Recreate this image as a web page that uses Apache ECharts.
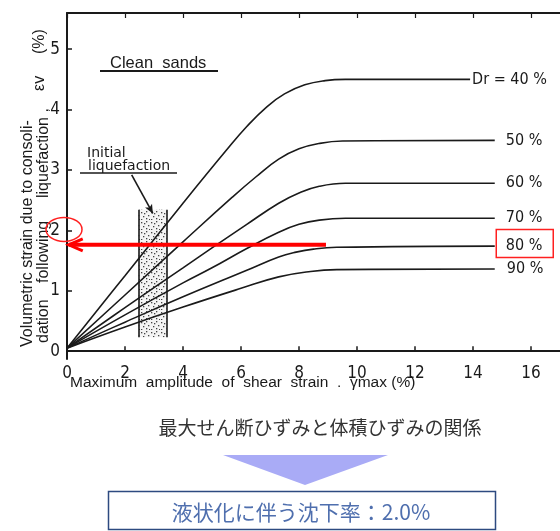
<!DOCTYPE html>
<html><head><meta charset="utf-8">
<script src="https://cdn.jsdelivr.net/npm/echarts@6/dist/echarts.min.js"></script>
<style>html,body{margin:0;padding:0;background:#fff;}#c{width:560px;height:531px;}</style>
</head><body><div id="c"></div>
<script>
// ---- data ----
const xTicks = [0, 2, 4, 6, 8, 10, 12, 14, 16];
const yTicks = [0, 1, 2, 3, 4, 5];
const curveNames = ['Dr = 40 %', '50 %', '60 %', '70 %', '80 %', '90 %'];
const dr40 = [[0,0.05],[2,1.25],[4,2.45],[5.5,3.33],[6.2,3.72],[6.9,4.05],[7.5,4.26],[8.2,4.41],[8.9,4.48],[9.6,4.5],[13.9,4.5]];
const dr50 = [[0,0.05],[2,0.93],[4,1.81],[5.7,2.55],[6.5,2.88],[7.3,3.18],[8.0,3.35],[8.7,3.44],[9.5,3.48],[14.75,3.49]];
const dr60 = [[0,0.05],[2,0.72],[4,1.38],[5,1.71],[6.2,2.1],[7.3,2.45],[8.0,2.62],[8.7,2.73],[9.6,2.78],[14.75,2.78]];
const dr70 = [[0,0.05],[2,0.6],[4,1.13],[5,1.38],[6.2,1.7],[7.3,1.97],[8.0,2.1],[8.7,2.17],[9.6,2.2],[14.75,2.2]];
const dr80 = [[0,0.05],[2,0.48],[4,0.9],[6.2,1.34],[7.3,1.56],[7.9,1.64],[8.5,1.69],[9.3,1.72],[14.75,1.74]];
const dr90 = [[0,0.05],[2,0.4],[4,0.73],[6,1.04],[7.3,1.23],[8.4,1.32],[9.3,1.35],[14.75,1.36]];
const curves = [dr40, dr50, dr60, dr70, dr80, dr90];
const bandX = [2.47, 3.43];        // initial liquefaction band
const bandY = [0.23, 2.34];
const pointerLine = [[2.23, 2.92], [2.96, 2.28]];
const readLine = [[8.93, 1.76], [0.06, 1.76]];  // red reading arrow
const captionTop = '最大せん断ひずみと体積ひずみの関係';
const captionBox = '液状化に伴う沈下率：2.0%';

const FONT = "'Liberation Sans Narrow','DejaVu Sans Condensed','Liberation Sans',sans-serif";
const TFONT = "'Liberation Sans',Arial,sans-serif";
const DFONT = "'DejaVu Sans',sans-serif";
const INK = '#1a1a1a';

// dotted texture (fixed dot positions)
const pat = document.createElement('canvas');
pat.width = 10; pat.height = 10;
(function(){
  const g = pat.getContext('2d');
  g.fillStyle = '#f4f4f4'; g.fillRect(0,0,10,10);
  g.fillStyle = '#444';
  [[1,2],[6,1],[8,5],[3,6],[6,8],[9,9],[1,9],[4,3]].forEach(p => g.fillRect(p[0],p[1],1.3,1.3));
})();

const chart = echarts.init(document.getElementById('c'), null, {renderer: 'canvas'});

const endDist = [2, 11, 11, 11, 11, 12];
const series = curves.map((d, i) => ({
  type: 'line', name: curveNames[i], data: d, smooth: 0.45,
  symbol: 'none', silent: true,
  lineStyle: {color: INK, width: 1.6},
  endLabel: {show: true, formatter: '{a}', distance: endDist[i], color: INK, fontSize: 16, fontFamily: FONT},
  z: 3
}));

// band + annotations carried on helper series
series.push({
  type: 'line', data: [], symbol: 'none', silent: true,
  markArea: {silent: true, itemStyle: {color: {image: pat, repeat: 'repeat'}, opacity: 1},
    data: [[{coord: [bandX[0], bandY[0]]}, {coord: [bandX[1], bandY[1]]}]]},
  markLine: {silent: true, symbol: 'none', label: {show: false},
    lineStyle: {color: INK, width: 1.6, type: 'solid'},
    data: [
      [{coord: [bandX[0], bandY[0]]}, {coord: [bandX[0], bandY[1]]}],
      [{coord: [bandX[1], bandY[0]]}, {coord: [bandX[1], bandY[1]]}],
      [{coord: pointerLine[0], symbol: 'none'}, {coord: pointerLine[1], symbol: 'arrow', symbolSize: [6, 9]}]
    ]},
  z: 2
});
series.push({
  type: 'line', data: readLine, symbol: 'none', silent: true,
  lineStyle: {color: '#ff0000', width: 4}, z: 5
});

const axisLineStyle = {show: true, lineStyle: {color: INK, width: 2}};
chart.setOption({
  animation: false,
  backgroundColor: '#fff',
  grid: {left: 67, top: 13, width: 495, height: 346, containLabel: false},
  xAxis: [
    {type: 'value', min: 0, max: 17, position: 'bottom',
     axisLine: axisLineStyle,
     axisTick: {show: true, inside: true, length: 5, customValues: xTicks, lineStyle: {color: INK, width: 1.5}},
     axisLabel: {customValues: xTicks, color: INK, fontSize: 17, fontFamily: FONT, margin: 6},
     splitLine: {show: false}},
    {type: 'value', min: 0, max: 17, position: 'top',
     axisLine: axisLineStyle,
     axisTick: {show: true, inside: true, length: 5, customValues: xTicks, lineStyle: {color: INK, width: 1.2}},
     axisLabel: {show: false}, splitLine: {show: false}}
  ],
  yAxis: [
    {type: 'value', min: -0.13, max: 5.6,
     axisLine: axisLineStyle,
     axisTick: {show: true, inside: true, length: 5, customValues: yTicks, lineStyle: {color: INK, width: 1.5}},
     axisLabel: {customValues: yTicks, color: INK, fontSize: 17, fontFamily: FONT, margin: 7},
     splitLine: {show: false}}
  ],
  series: series
});

const px = (v) => chart.convertToPixel({xAxisIndex: 0, yAxisIndex: 0}, v);
const p2 = px([0, 2]);
const pr = px(readLine[1]);
const p80 = px([dr80[dr80.length - 1][0], dr80[dr80.length - 1][1]]);

const vt = (txt, x, y, size) => ({type: 'text', x: x, y: y, rotation: Math.PI / 2,
  style: {text: txt, fontSize: size, fontFamily: TFONT, fill: INK, align: 'left', verticalAlign: 'middle'}});

chart.setOption({
  graphic: [
    // y-axis title (two rotated lines)
    vt('Volumetric strain due to consoli-', 28, 347, 16),
    vt('dation', 44, 343, 16),
    vt('following', 44, 283, 16),
    vt('liquefaction ,', 44, 198, 16),
    vt('εv', 40, 91, 16),
    vt('(%)', 40, 54, 16),
    // x-axis title
    {type: 'text', x: 70, y: 383, style: {text: 'Maximum  amplitude  of  shear  strain  .  γmax (%)', fontSize: 15.5, fontFamily: TFONT, fill: INK, verticalAlign: 'middle'}},
    // Clean sands
    {type: 'text', x: 110, y: 63, style: {text: 'Clean  sands', fontSize: 16.5, fontFamily: TFONT, fill: INK, verticalAlign: 'middle'}},
    {type: 'line', shape: {x1: 100, y1: 71, x2: 218, y2: 71}, style: {stroke: INK, lineWidth: 2}},
    // Initial liquefaction
    {type: 'text', x: 87, y: 153, style: {text: 'Initial', fontSize: 14, fontFamily: DFONT, fill: INK, verticalAlign: 'middle'}},
    {type: 'text', x: 88, y: 166, style: {text: 'liquefaction', fontSize: 14, fontFamily: DFONT, fill: INK, verticalAlign: 'middle'}},
    {type: 'line', shape: {x1: 80, y1: 173, x2: 177, y2: 173}, style: {stroke: INK, lineWidth: 1.6}},
    // red annotations
    {type: 'ellipse', shape: {cx: p2[0] - 3, cy: p2[1] - 1, rx: 18, ry: 12}, style: {fill: 'none', stroke: '#ff2020', lineWidth: 1.5}, z: 10},
    {type: 'polyline', shape: {points: [[pr[0] + 14, pr[1] - 6], [pr[0], pr[1]], [pr[0] + 14, pr[1] + 6]]}, style: {fill: 'none', stroke: '#ff0000', lineWidth: 3}, z: 10},
    {type: 'rect', shape: {x: p80[0] + 1.5, y: p80[1] - 16.5, width: 57, height: 28}, style: {fill: 'none', stroke: '#ff2020', lineWidth: 1.5}, z: 10},
    // captions below
    {type: 'text', x: 320, y: 428, style: {text: captionTop, fontSize: 19, fontFamily: "'Noto Sans CJK JP',sans-serif", fill: '#333', align: 'center', verticalAlign: 'middle'}},
    {type: 'polygon', shape: {points: [[223, 455], [388, 455], [305, 485]]}, style: {fill: '#a9abf6'}},
    {type: 'rect', shape: {x: 108.5, y: 491.5, width: 387, height: 38}, style: {fill: 'none', stroke: '#2d4a80', lineWidth: 1.5}},
    {type: 'text', x: 301, y: 512, style: {text: captionBox, fontSize: 21, fontFamily: "'Noto Sans CJK JP',sans-serif", fill: '#4f6fae', align: 'center', verticalAlign: 'middle'}}
  ]
});
</script></body></html>
